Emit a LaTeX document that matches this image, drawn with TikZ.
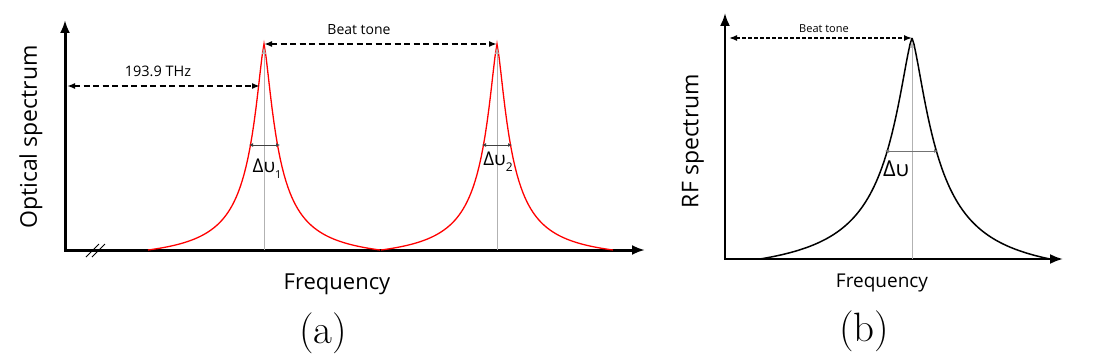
\documentclass[tikz,border=0pt]{standalone}
\usepackage{fontspec}
\newfontfamily\figfont{Open Sans}
\usetikzlibrary{arrows.meta,positioning,calc}
\tikzset{
  spec axis/.style={line width=3pt, line join=miter, {Latex[length=13pt,width=10pt]}-{Latex[length=13pt,width=10pt]}},
  spec beat/.style={line width=2pt, dash pattern=on 6pt off 3.5pt, {Latex[length=8pt,width=6pt]}-{Latex[length=8pt,width=6pt]}},
  spec fwhm/.style={line width=0.8pt, black!75, {Latex[length=4pt,width=4pt]}-{Latex[length=4pt,width=4pt]}},
  spec center/.style={line width=0.7pt, black!30, -{Latex[length=7pt,width=4pt]}, shorten >=3pt},
  spec text/.style={font=\figfont\fontsize{#1}{#1}\selectfont, inner sep=0pt},
  spec caption/.style={font=\fontsize{41}{41}\selectfont, inner sep=0pt},
  declare function={
    lor(\d,\g)=1/(1+(abs(\d)/\g+0.0001)^1.4);
    pk(\d,\g,\e)=(lor(\d,\g)-lor(\e,\g))/(1-lor(\e,\g));
  }
}

\begin{document}
\begin{tikzpicture}[x=1pt, y=-1pt]
  \path[use as bounding box] (0,0) rectangle (1114,361);

  % (a) Optical spectrum
  \coordinate (oa) at (65,250);
  \coordinate (ya) at (65,20);
  \coordinate (xa) at (645,250);
  \draw[spec axis] (ya) -- (oa) -- (xa);
  \draw[line width=1pt] (86,257) -- (99,244) (92,257) -- (105,244);

  % two optical lines
  \draw[red, line width=1.3pt] plot[domain=-116:116, samples=117] ({264+\x}, {250-206*pk(\x,15,116)});
  \draw[red, line width=1.3pt] plot[domain=-116:116, samples=117] ({497+\x}, {250-206*pk(\x,15,116)});

  \coordinate (pk1) at (264,44);
  \coordinate (ft1) at (264,250);
  \coordinate (pk2) at (497,44);
  \coordinate (ft2) at (497,250);
  \draw[spec center] (ft1) -- (pk1);
  \draw[spec center] (ft2) -- (pk2);

  % dimension arrows
  \coordinate (thzL) at (67,86);
  \coordinate (thzR) at (260,86);
  \draw[spec beat] (thzL) -- (thzR);
  \draw[spec beat] (pk1) -- (pk2);
  \coordinate (w1l) at (249,145);
  \coordinate (w1r) at (280,145);
  \coordinate (w2l) at (482,145);
  \coordinate (w2r) at (512,145);
  \draw[spec fwhm] (w1l) -- (w1r);
  \draw[spec fwhm] (w2l) -- (w2r);

  % labels
  \node[spec text=23, rotate=90] (ylaba) at (31,137) {Optical spectrum};
  \node[spec text=22] (xlaba) at (337,284) {Frequency};
  \node[spec text=14.5] (thz) at (158,71) {193.9 THz};
  \node[spec text=14] (beata) at (359,30) {Beat tone};
  \node[spec text=19] (dv1) at (267,169) {Δυ\raisebox{-.55ex}{\fontsize{11}{11}\selectfont 1}};
  \node[spec text=19] (dv2) at (498,162) {Δυ\raisebox{-.55ex}{\fontsize{12}{12}\selectfont 2}};
  \node[spec caption] (capa) at (323,333) {(a)};

  % (b) RF spectrum
  \coordinate (ob) at (725,259);
  \coordinate (yb) at (725,13);
  \coordinate (xb) at (1063,259);
  \draw[spec axis, line width=2.2pt] (yb) -- (ob) -- (xb);

  \draw[line width=1.5pt] plot[domain=-152:0, samples=77] ({912+\x}, {259-221*pk(\x,27,152)});
  \draw[line width=1.5pt] plot[domain=0:138, samples=70] ({912+\x}, {259-221*pk(\x,27,138)});

  \coordinate (pkb) at (912,38);
  \coordinate (ftb) at (912,259);
  \coordinate (beatL) at (729,38);
  \draw[spec center] (ftb) -- (pkb);
  \draw[spec beat, line width=1.5pt, dash pattern=on 4pt off 2pt] (beatL) -- (pkb);
  \coordinate (wbl) at (885,151);
  \coordinate (wbr) at (938,151);
  \draw[spec fwhm, black!55] (wbl) -- (wbr);

  \node[spec text=23, rotate=90] (ylabb) at (693,141) {RF spectrum};
  \node[spec text=19] (xlabb) at (882,283) {Frequency};
  \node[spec text=11] (beatb) at (824,29) {Beat tone};
  \node[spec text=22] (dvb) at (896,169) {Δυ};
  \node[spec caption] (capb) at (864,331) {(b)};
\end{tikzpicture}
\end{document}
